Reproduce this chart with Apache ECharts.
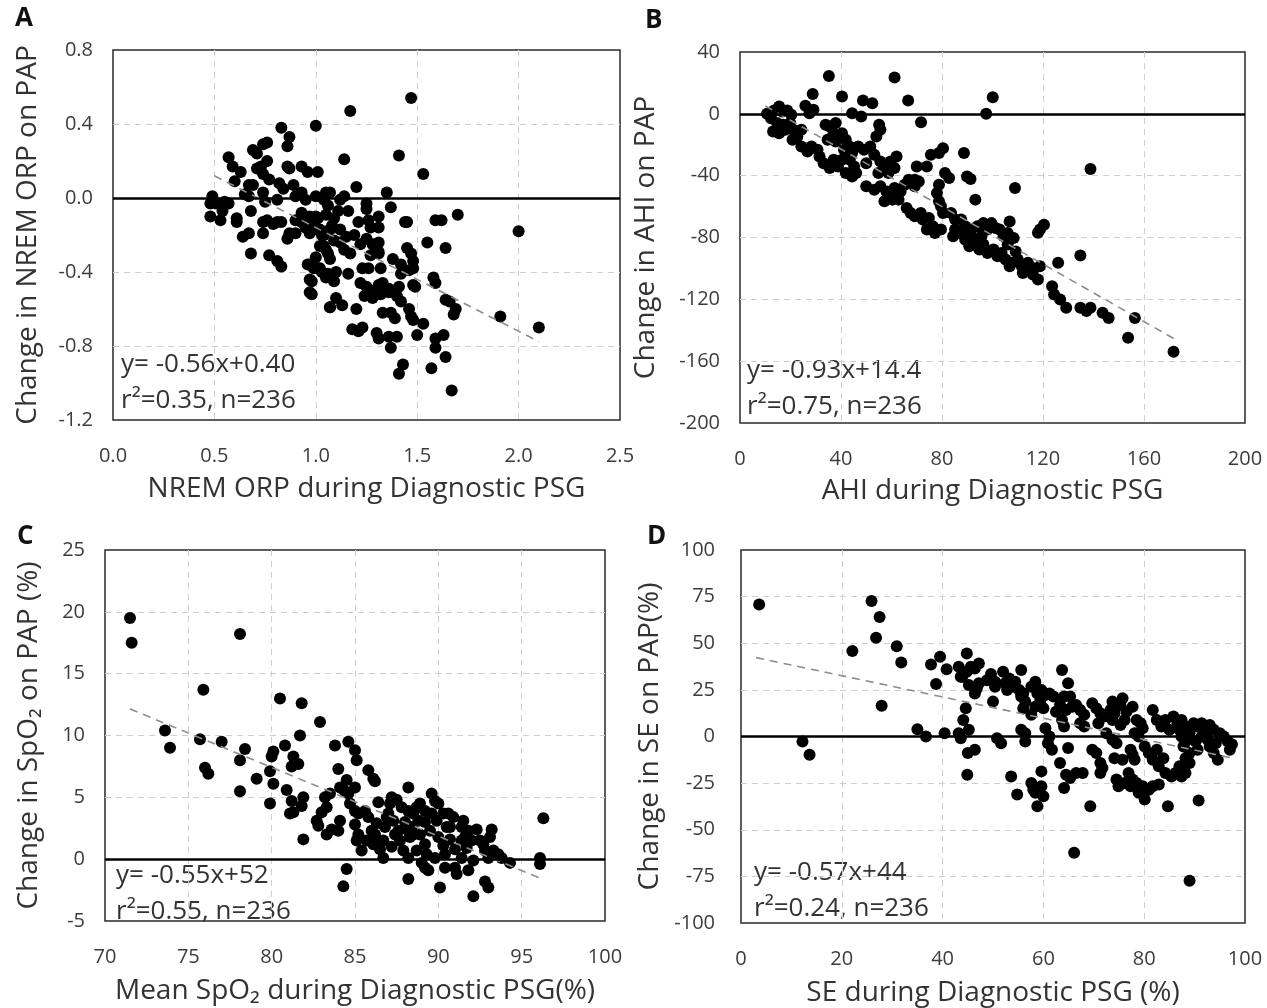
<!DOCTYPE html>
<html>
<head>
<meta charset="utf-8">
<script src="https://cdn.jsdelivr.net/npm/echarts@6/dist/echarts.min.js"></script>
<style>
  html, body { margin: 0; padding: 0; background: #fff; }
  #chart { width: 1267px; height: 1008px; }
</style>
</head>
<body>
<div id="chart"></div>
<script>
// --- data ---
const pointsA = [
  [0.83,0.38],[1.00,0.39],[0.87,0.33],[0.86,0.28],[0.76,0.30],[0.74,0.29],[0.69,0.26],[0.71,0.24],[0.57,0.22],[0.59,0.17],
  [0.63,0.14],[0.60,0.09],[0.76,0.20],[0.73,0.17],[0.71,0.16],[0.74,0.13],[0.77,0.10],[0.86,0.17],[0.87,0.16],[0.93,0.17],
  [0.96,0.14],[1.01,0.14],[0.67,0.07],[0.69,0.07],[0.65,0.02],[0.67,0.01],[0.74,0.03],[0.75,-0.02],[0.82,0.08],[0.84,0.05],
  [0.81,-0.01],[0.89,0.07],[0.90,0.01],[0.93,0.03],[0.95,-0.01],[1.00,0.01],[1.04,-0.01],[1.05,0.03],[1.06,-0.04],[0.49,0.01],
  [0.48,-0.03],[0.51,-0.03],[0.48,-0.10],[0.53,-0.12],[0.55,-0.02],[0.57,-0.03],[0.54,-0.07],[0.61,-0.11],[0.61,-0.13],[0.68,-0.07],
  [0.64,-0.21],[0.67,-0.19],[0.74,-0.13],[0.76,-0.12],[0.79,-0.14],[0.81,-0.13],[0.83,-0.13],[0.74,-0.19],[0.86,-0.22],[0.87,-0.19],
  [0.90,-0.19],[0.90,-0.12],[0.93,-0.13],[0.95,-0.16],[0.97,-0.19],[0.98,-0.14],[1.00,-0.10],[1.01,-0.17],[1.04,-0.20],[1.07,-0.17],
  [0.68,-0.30],[0.77,-0.31],[0.81,-0.34],[0.83,-0.37],[0.96,-0.36],[0.99,-0.38],[1.02,-0.38],[0.97,-0.44],[0.97,-0.51],[1.04,-0.26],
  [1.06,-0.30],[1.07,-0.33],[1.06,-0.41],[1.07,-0.59],
  [1.47,0.54],[1.17,0.47],[1.14,0.21],[1.41,0.23],[1.53,0.13],[1.20,0.06],[1.35,0.03],[1.37,-0.05],[1.25,-0.03],[1.25,-0.06],
  [1.07,0.03],[1.12,-0.01],[1.14,0.01],[1.16,-0.07],[1.11,-0.07],[0.93,-0.08],[0.97,-0.10],[1.01,-0.11],[1.05,-0.09],[1.09,-0.11],
  [1.21,-0.13],[1.26,-0.12],[1.31,-0.10],[1.27,-0.16],[1.31,-0.16],[1.31,-0.24],[1.31,-0.29],[1.45,-0.13],[1.59,-0.12],[1.62,-0.12],
  [1.70,-0.09],[1.55,-0.24],[1.64,-0.27],[0.95,-0.16],[0.98,-0.14],[1.02,-0.17],[1.03,-0.20],[1.08,-0.15],[1.12,-0.17],[1.15,-0.21],
  [1.19,-0.20],[1.22,-0.25],[1.25,-0.22],[1.28,-0.25],[1.09,-0.23],[1.12,-0.24],[1.17,-0.30],[1.14,-0.28],[1.02,-0.26],[1.05,-0.28],
  [1.00,-0.32],[1.27,-0.31],[1.31,-0.30],[0.97,-0.36],[1.01,-0.38],[1.03,-0.40],[0.98,-0.45],[0.98,-0.52],[1.05,-0.43],[1.10,-0.40],
  [1.09,-0.45],[1.16,-0.41],[1.23,-0.38],[1.26,-0.38],[1.32,-0.38],[1.38,-0.33],[1.42,-0.36],[1.48,-0.34],[1.48,-0.38],[1.46,-0.39],
  [1.42,-0.41],[1.45,-0.27],[1.47,-0.30],[1.22,-0.46],[1.25,-0.48],[1.27,-0.50],[1.31,-0.47],[1.33,-0.46],[1.36,-0.49],[1.41,-0.48],
  [1.49,-0.48],[1.48,-0.47],[1.24,-0.53],[1.28,-0.54],[1.32,-0.52],[1.36,-0.51],[1.40,-0.53],[1.42,-0.56],[1.58,-0.43],[1.59,-0.46],
  [1.64,-0.55],[1.66,-0.56],[1.69,-0.60],[1.68,-0.63],[1.10,-0.54],[1.13,-0.58],[1.07,-0.59],[1.20,-0.60],[1.33,-0.62],[1.37,-0.62],
  [1.39,-0.65],[1.46,-0.60],[1.47,-0.64],[1.48,-0.66],[1.53,-0.68],[1.50,-0.74],[1.18,-0.71],[1.21,-0.72],[1.23,-0.70],[1.30,-0.73],
  [1.31,-0.76],[1.36,-0.75],[1.40,-0.75],[1.37,-0.81],[1.59,-0.76],[1.63,-0.74],[1.59,-0.81],[1.64,-0.86],[1.57,-0.92],[1.43,-0.90],
  [1.41,-0.95],[1.67,-1.04],[2.00,-0.18],[1.91,-0.64],[2.10,-0.70],[1.44,-0.13]
];

const pointsB = [
  [35.2,24.5],[61.2,23.5],[28.8,12.9],[40.4,11.2],[48.7,8.6],[52.4,6.9],[66.6,8.6],[100.1,10.8],[97.5,0],[71.7,-5.4],
  [138.8,-35.7],[108.9,-48],[118.8,-74.9],[120.4,-71.7],[118,-77],[134.8,-91.7],[126,-96.4],[156.4,-132],[153.7,-144.9],[171.7,-153.9],
  [143.6,-128.7],[146,-132],[134.8,-125.5],[138.8,-125.5],[137.2,-127.6],[123.6,-111.5],[124.4,-116.9],[126.8,-120.1],[129.2,-125.5],[118.8,-98.6],
  [118,-107.2],[88.7,-25.4],[89.9,-40.5],[91.3,-42.2],[93.2,-55.5],[80.4,-22.2],[78.8,-25.4],[75.6,-26.5],[74,-34],[81.2,-38.3],
  [82.8,-41.5],[70,-34],[69.2,-42.6],[78.8,-45.8],[78,-51.2],[78.8,-56.6],[79.6,-59.8],
  [10.7,0],[12.3,-2.8],[13.5,2.2],[15.5,4.7],[16.7,1.5],[18.7,2.2],[20.3,-0.6],[13.1,-11.4],[15.5,-12.5],[17.9,-10.3],
  [14.7,-6],[17.1,-7.1],[19.9,-6],[21.1,-10.3],[22.7,-14.6],[20.8,-16.8],[24.3,-10.3],[25.9,5.2],[27.5,0.4],[29.1,2.6],
  [24.3,-21.1],[26.7,-24.3],[28.3,-21.1],[30.7,-23.2],[31.5,-27.6],[33.1,-31.9],[35.5,-35.1],[37.1,-29.7],[38.8,-34],[33.9,-7.1],
  [35.5,-8.2],[37.9,-6],[37.1,-12.5],[34.7,-16.8],[37.9,-17.9],[40.4,-12.5],[41.9,-16.8],[43.5,-21.1],[44.4,-25.4],[41.2,-23.2],
  [40.4,-29.7],[43.5,-29.7],[45.2,-34],[41.9,-38.3],[44.4,-40.5],[46,-38.3],[44.4,0.4],[48,-1.7],[55.1,-7.1],[55.6,-10.3],
  [54,-14.6],[46.8,-21.1],[49.1,-23.2],[51.6,-21.1],[53.2,-26.5],[50,-31.9],[55.6,-30.8],[57.2,-34],[54.8,-38.3],[58.8,-38.3],
  [61.2,-35.1],[62,-27.6],[59.6,-30.8],[50,-46.9],[53.2,-49.1],[55.6,-46.9],[58,-50.2],[59.6,-53.4],[61.2,-48],[63.6,-50.2],
  [62.8,-55.5],[60.4,-55.5],[57.2,-56.6],[65.2,-45.8],[66.8,-42.6],[69.2,-46.9],[70.8,-43.7],[66,-60.9],[67.6,-64.1],[69.2,-66.3],
  [71.6,-64.1],[72.4,-68.4],[74.8,-67.4],[76.4,-72.8],[74,-74.9],[77.2,-77.1],[79.6,-74.9],[80.4,-64.1],[83.6,-64.1],[85.2,-68.4],
  [87.6,-68.4],[89.2,-72.8],[91.6,-74.9],[94,-72.8],[96.4,-70.7],[98,-74.9],[99.6,-70.7],[101.2,-73.9],[102.8,-74.9],[104.4,-79.2],
  [106,-77.1],[106.8,-69.6],[84.4,-79.2],[86.8,-77.1],[89.2,-81.4],[91.6,-79.2],[93.2,-83.5],[90.8,-85.7],[94.8,-87.8],[96.4,-84.6],
  [98,-90],[100.4,-87.8],[102,-92.1],[103.6,-90],[105.2,-94.3],[107.6,-96.4],[110,-94.3],[111.6,-98.6],[114,-96.4],[115.6,-99.6],
  [109.2,-89],[106,-84.6],[108.4,-80.4],[95.6,-79.2],[85.2,-74.9],[90,-77.1],[106.8,-98.6],[112,-103],[116,-104],[113,-100]
];

const pointsC = [
  [71.5,19.5],[71.6,17.5],[78.1,18.2],[75.9,13.7],[80.5,13.0],[81.8,12.6],[82.9,11.1],[73.6,10.4],[73.9,9.0],[75.7,9.7],
  [77.0,9.5],[76.0,7.4],[76.2,6.9],[78.1,8.0],[78.4,8.9],[78.1,5.5],[79.1,6.5],[80.1,8.7],[80.0,8.3],[79.9,7.1],
  [80.1,6.1],[79.9,4.5],[80.8,9.2],[81.7,10.0],[81.3,8.3],[81.6,7.7],[81.2,7.5],[80.9,5.6],[81.2,4.7],[81.3,3.8],
  [81.1,3.7],[81.9,5.0],[81.8,4.3],[81.9,1.6],[82.7,3.1],[82.8,2.7],[83.3,2.0],[83.6,2.4],[83.0,3.8],[83.3,4.2],
  [83.2,5.0],[83.5,5.3],[83.8,9.2],[84.0,7.3],[84.1,5.8],[84.4,5.5],[84.5,6.4],[84.6,5.3],[85.0,5.8],[84.7,4.5],
  [84.1,3.1],[84.0,2.3],[84.6,9.5],[85.0,8.8],[85.1,8.0],[85.8,7.2],[86.1,6.5],[86.2,6.3],[84.5,-0.8],[84.3,-2.2],
  [85.0,2.8],[85.2,2.0],[85.1,1.5],[85.4,0.7],[85.0,3.9],[85.2,3.7],[85.6,3.9],[85.8,3.4],[86.0,2.3],[85.7,1.5],
  [86.2,2.0],[86.1,1.2],[86.5,0.8],[86.7,0.1],[86.7,1.5],[86.8,2.6],[87.0,3.7],[87.1,4.5],[87.2,5.0],[87.3,3.1],
  [87.6,2.3],[87.7,1.5],[87.9,0.7],[88.2,0.1],[88.3,1.8],[88.4,2.6],[88.5,3.7],[88.7,4.2],[88.2,5.8],[88.2,-1.6],
  [88.8,3.1],[88.9,2.0],[89.2,1.2],[89.3,0.4],[89.0,-0.3],[89.4,-0.9],[89.2,-0.7],[89.5,2.3],[89.6,3.7],[89.6,5.3],
  [89.8,4.7],[89.9,3.1],[90.1,-2.3],[90.0,1.8],[90.3,1.1],[90.4,0.4],[90.5,2.6],[90.6,3.7],[90.9,3.4],[90.7,1.6],
  [91.0,0.8],[91.0,-0.7],[91.1,-1.2],[91.4,0.1],[91.4,2.6],[91.5,3.1],[91.6,1.8],[91.7,0.9],[92.0,1.5],[92.1,-0.1],
  [91.8,-0.9],[92.1,-3.0],[92.5,1.5],[92.7,1.2],[92.8,0.7],[93.0,0.1],[93.1,1.8],[93.2,2.4],[92.8,-1.8],[93.0,-2.3],
  [93.3,0.7],[93.6,0.4],[93.8,0.1],[94.3,-0.3],[96.3,3.3],[96.1,0.1],[96.1,-0.4],[87.8,4.2],[88.2,3.9],[88.9,4.5],
  [89.2,3.9],[90.0,4.5],[90.3,3.7],[89.2,3.0],[88.5,2.0],[88.2,2.3],[87.2,1.0],[88.7,0.7],[89.8,0.1],[90.4,-0.7],
  [91.4,1.5],[91.8,2.3],[86.4,4.6],[86.9,3.4],[87.5,4.8],[86.3,2.9],[87.4,2.0],[88.0,3.0],[90.7,2.6],[92.3,2.4]
];

const pointsD = [
  [3.6,70.8],[12.2,-2.7],[13.6,-9.8],[22.1,45.9],[25.9,72.6],[27.5,64.1],[26.8,53.0],[30.9,48.4],[31.8,39.7],[27.9,16.5],
  [35.0,3.9],[36.7,0],[37.7,38.6],[39.5,42.7],[38.7,28.1],[40.8,36.1],[43.2,37.4],[43.6,32.0],[44.8,44.5],[45.6,37.4],
  [46.4,36.5],[47.2,39.1],[43.9,32.0],[44.8,34.7],[45.2,27.6],[46.4,23.1],[46.8,25.8],[47.2,28.5],[44.6,15.1],[44.1,8.9],
  [45.2,3.6],[43.2,1.8],[43.6,-0.9],[40.4,1.8],[45.0,-8.9],[46.4,-7.1],[44.9,-20.5],[49.6,33.5],[50.4,29.4],[50.0,18.7],
  [50.4,26.7],[48.8,30.2],[52.0,34.7],[53.2,31.1],[52.4,28.5],[54.0,26.7],[52.8,24.9],[54.4,29.4],[55.2,24.9],[55.6,21.4],
  [56.0,23.1],[50.8,-0.9],[51.6,-3.6],[55.6,35.6],[55.6,23.1],[56.0,15.1],[56.4,18.7],[55.6,3.6],[56.4,1.8],[56.4,-2.7],
  [53.6,-21.4],[54.8,-31.1],[57.6,-24.9],[58.0,-28.5],[58.4,-30.2],[58.8,-37.4],[59.6,-26.7],[60.0,-32.0],[57.6,26.7],[58.4,29.4],
  [58.8,23.1],[59.4,19.6],[59.6,24.9],[60.4,22.2],[61.2,23.1],[62.0,21.4],[60.0,15.1],[58.4,16.0],[57.6,11.6],[60.4,4.4],
  [61.2,0],[61.7,-7.1],[60.9,-3.6],[59.6,-18.7],[63.7,35.6],[64.9,28.5],[64.1,21.4],[65.3,21.4],[65.7,16.0],[64.5,14.2],
  [63.3,16.9],[62.5,13.3],[63.7,8.9],[64.1,5.3],[64.9,-6.2],[63.3,-14.2],[64.5,-20.5],[65.3,-22.2],[64.1,-27.6],[66.5,-19.6],
  [67.8,-19.6],[66.1,-62.3],[66.5,16.9],[67.3,14.2],[68.1,11.6],[68.1,5.3],[67.3,7.1],[69.7,17.8],[70.5,15.1],[71.3,12.5],
  [70.9,7.1],[72.1,10.7],[73.3,14.2],[73.7,18.7],[69.3,-37.4],[69.7,-7.1],[70.5,-8.9],[71.3,-14.2],[71.7,-16.9],[71.3,-19.6],
  [72.5,1.8],[73.7,8.9],[74.1,12.5],[74.5,16.0],[75.3,16.9],[75.7,20.5],[76.5,13.3],[76.1,8.9],[75.3,6.2],[73.7,-1.8],
  [74.5,-3.6],[74.1,-11.6],[74.5,-23.1],[74.9,-26.7],[76.1,-24.9],[75.7,-12.5],[77.7,16.0],[78.5,8.9],[79.3,7.1],[79.7,4.4],
  [78.1,1.8],[78.9,0],[77.3,-7.1],[77.7,-9.8],[78.1,-12.5],[76.9,-19.6],[77.7,-23.1],[77.3,-26.7],[78.5,-24.9],[78.9,-30.2],
  [79.7,-26.7],[80.1,-33.8],[80.9,-28.5],[81.7,-26.7],[82.9,-25.8],[80.1,-5.3],[80.9,-8.9],[81.7,-12.5],[82.5,-7.1],[82.9,-16.0],
  [83.8,-11.6],[84.2,-19.6],[85.4,-21.4],[86.2,-19.6],[87.0,-16.0],[84.7,-37.4],[81.7,14.2],[82.5,8.9],[83.4,5.3],[84.2,8.9],
  [85.0,3.6],[85.8,10.7],[86.6,7.1],[87.0,3.6],[87.4,8.9],[88.2,5.3],[89.0,1.8],[89.8,7.1],[87.4,0],[88.2,-2.7],
  [87.8,-5.3],[89.0,-8.9],[88.2,-11.6],[90.2,-2.7],[90.6,-7.1],[91.4,0],[92.2,1.8],[92.6,-1.8],[93.0,-5.3],[93.8,-8.9],
  [94.6,-12.5],[94.2,-3.6],[95.0,1.8],[95.8,0],[96.6,-2.7],[97.0,-7.1],[90.6,5.3],[91.4,7.1],[92.2,4.4],[93.0,6.2],
  [93.8,3.6],[88.2,-19.6],[87.4,-21.4],[89.0,-14.2],[90.8,-34.3],[89.0,-77.4],[97.4,-4.1]
];

// regression: [slope, intercept] and the x span the dashed line covers
const fitA = [-0.56, 0.40], spanA = [0.5, 2.1];
const fitB = [-0.93, 14.4], spanB = [10, 172];
const fitC = [-0.556, 51.9], spanC = [71.5, 96.3];
const fitD = [-0.57, 44], spanD = [3, 97];

const statsA = ['y= -0.56x+0.40', 'r\u00b2=0.35, n=236'];
const statsB = ['y= -0.93x+14.4', 'r\u00b2=0.75, n=236'];
const statsC = ['y= -0.55x+52', 'r\u00b2=0.55, n=236'];
const statsD = ['y= -0.57x+44', 'r\u00b2=0.24, n=236'];

// axis ranges [min, max, interval]
const xRangeA = [0, 2.5, 0.5], yRangeA = [-1.2, 0.8, 0.4];
const xRangeB = [0, 200, 40], yRangeB = [-200, 40, 40];
const xRangeC = [70, 100, 5], yRangeC = [-5, 25, 5];
const xRangeD = [0, 100, 20], yRangeD = [-100, 100, 25];

const xNames = ['NREM ORP during Diagnostic PSG', 'AHI during Diagnostic PSG',
  'Mean SpO\u2082 during Diagnostic PSG(%)', 'SE during Diagnostic PSG (%)'];
const yNames = ['Change in NREM ORP on PAP', 'Change in AHI on PAP',
  'Change in SpO\u2082 on PAP (%)', 'Change in SE on PAP(%)'];
const letters = ['A', 'B', 'C', 'D'];

// --- layout ---
const FONT = '"Open Sans", "Noto Sans", sans-serif';
const grids = [
  { left: 113, top: 50, width: 507, height: 370 },
  { left: 740, top: 52, width: 505, height: 371 },
  { left: 105, top: 550, width: 500, height: 371 },
  { left: 741, top: 550, width: 504, height: 374 }
];
const xNameGap = [55, 54, 56, 56];
const yNameGap = [71, 80, 62, 77];
const yLabelMargin = [20, 20, 20, 26];
const letterPos = [[15, 6], [645, 8], [17, 524], [647, 524]];
const statsPos = [[121, 352], [747, 358], [116, 863], [754, 860]];

const panels = [
  { pts: pointsA, fit: fitA, span: spanA, stats: statsA, xr: xRangeA, yr: yRangeA, dec: 1 },
  { pts: pointsB, fit: fitB, span: spanB, stats: statsB, xr: xRangeB, yr: yRangeB, dec: 0 },
  { pts: pointsC, fit: fitC, span: spanC, stats: statsC, xr: xRangeC, yr: yRangeC, dec: 0 },
  { pts: pointsD, fit: fitD, span: spanD, stats: statsD, xr: xRangeD, yr: yRangeD, dec: 0 }
];

const splitStyle = {
  show: true, showMinLine: false, showMaxLine: false,
  lineStyle: { color: '#cfcfcf', type: [6, 5], width: 1 }
};
const labelStyle = { color: '#3c3c3c', fontSize: 20, fontFamily: FONT };
const nameStyle = { color: '#333', fontSize: 28, fontFamily: FONT };

const xAxis = [], yAxis = [], series = [], graphic = [];

panels.forEach((p, i) => {
  xAxis.push({
    gridIndex: i, type: 'value', min: p.xr[0], max: p.xr[1], interval: p.xr[2],
    axisLine: { show: false, onZero: false }, axisTick: { show: false },
    axisLabel: Object.assign({ margin: 26, formatter: v => v.toFixed(p.dec) }, labelStyle),
    splitLine: splitStyle,
    name: xNames[i], nameLocation: 'middle', nameGap: xNameGap[i], nameTextStyle: nameStyle
  });
  yAxis.push({
    gridIndex: i, type: 'value', min: p.yr[0], max: p.yr[1], interval: p.yr[2],
    axisLine: { show: false, onZero: false }, axisTick: { show: false },
    axisLabel: Object.assign({ margin: yLabelMargin[i], formatter: v => v.toFixed(p.dec) }, labelStyle),
    splitLine: splitStyle,
    name: yNames[i], nameLocation: 'middle', nameGap: yNameGap[i], nameTextStyle: nameStyle
  });
  series.push({
    type: 'scatter', xAxisIndex: i, yAxisIndex: i, data: p.pts,
    symbol: 'circle', symbolSize: 12, itemStyle: { color: '#000', opacity: 1 },
    z: 2, silent: true,
    markLine: {
      silent: true, symbol: ['none', 'none'], label: { show: false },
      lineStyle: { color: '#000', width: 2.5, type: 'solid' },
      data: [{ yAxis: 0 }]
    }
  });
  series.push({
    type: 'line', xAxisIndex: i, yAxisIndex: i, z: 4, silent: true,
    data: p.span.map(x => [x, p.fit[0] * x + p.fit[1]]),
    symbol: 'none', lineStyle: { color: '#8c8c8c', width: 1.6, type: [8, 6] }
  });
  graphic.push({
    type: 'text', left: letterPos[i][0], top: letterPos[i][1],
    style: { text: letters[i], fontSize: 26, fontWeight: 'bold', fontFamily: FONT, fill: '#111' }
  });
  graphic.push({
    type: 'text', left: statsPos[i][0], top: statsPos[i][1],
    style: { text: p.stats[0], fontSize: 26, fontFamily: FONT, fill: '#333' }
  });
  graphic.push({
    type: 'text', left: statsPos[i][0], top: statsPos[i][1] + 36,
    style: { text: p.stats[1], fontSize: 26, fontFamily: FONT, fill: '#333' }
  });
});

const chart = echarts.init(document.getElementById('chart'));
chart.setOption({
  animation: false,
  backgroundColor: '#fff',
  grid: grids.map(g => Object.assign({ show: true, borderColor: '#2a2a2a', borderWidth: 1.5 }, g)),
  xAxis, yAxis, series, graphic
});
</script>
</body>
</html>
